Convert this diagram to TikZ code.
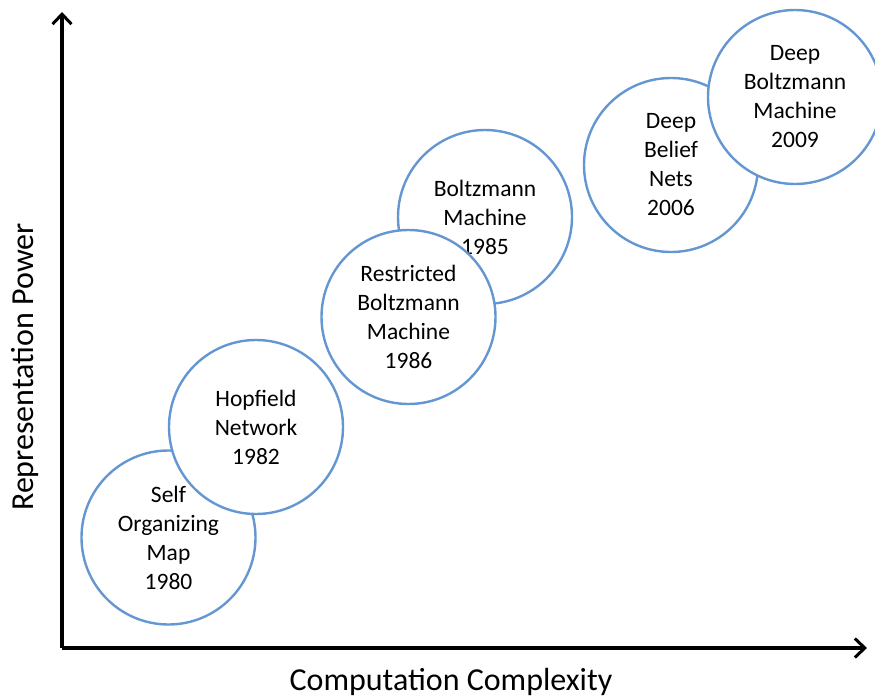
\documentclass[tikz,border=0pt]{standalone}
\usepackage{fontspec}
\setmainfont{Carlito}
\usetikzlibrary{arrows.meta}
\definecolor{ringblue}{RGB}{100,150,210}
\tikzset{
  ring/.style={circle, draw=ringblue, line width=2.4pt, fill=white, minimum size=174pt, inner sep=0pt,
    align=center, font=\fontsize{23.5}{29}\selectfont, text=black},
  axis/.style={line width=3.5pt, -{Straight Barb[length=10pt,width=19pt,line width=3pt]}},
  axislabel/.style={font=\fontsize{32}{36}\selectfont, text=black, inner sep=0pt}
}
\begin{document}
\begin{tikzpicture}[x=1pt,y=-1pt]
\useasboundingbox (0,0) rectangle (875,698);
\coordinate (origin) at (62,648);
\coordinate (ytip) at (62,12);
\coordinate (xtip) at (867,648);
\draw[axis] (origin) -- (ytip);
\draw[axis] (origin) -- (xtip);
\node[ring] (som) at (168.5,537.5) {Self\\Organizing\\Map\\1980};
\node[ring] (hop) at (256,427) {Hopfield\\Network\\1982};
\node[ring] (bm) at (485,217) {Boltzmann\\Machine\\1985};
\node[ring] (rbm) at (408.5,317) {Restricted\\Boltzmann\\Machine\\1986};
\node[ring] (dbn) at (671,165) {Deep\\Belief\\Nets\\2006};
\node[ring] (dbm) at (795,97) {Deep\\Boltzmann\\Machine\\2009};
\node[axislabel] (xl) at (451,682) {Computation Complexity};
\node[axislabel, rotate=90] (yl) at (25,367) {Representation Power};
\end{tikzpicture}
\end{document}
